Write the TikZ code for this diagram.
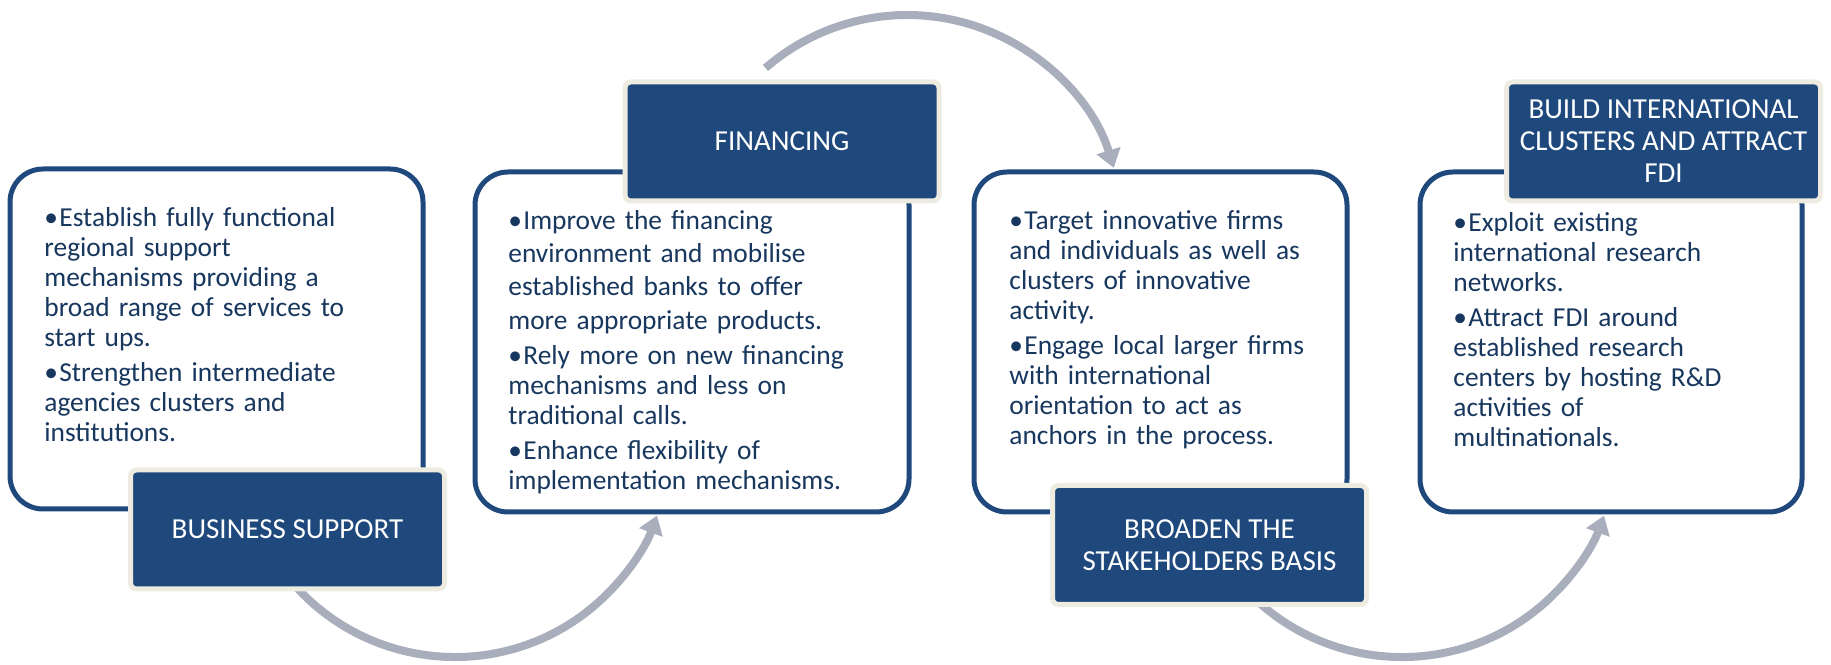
\documentclass[tikz,border=0pt]{standalone}
\usepackage{fontspec}
\setmainfont{Carlito}
\usetikzlibrary{arrows.meta,positioning}

\definecolor{panelblue}{HTML}{1F497D}
\definecolor{rimcream}{HTML}{EEECE1}
\definecolor{bodyink}{HTML}{17375E}
\definecolor{flowgray}{HTML}{A9AEBD}

% bullet with hanging indent
\newcommand{\bul}{\noindent\hangindent=7.5pt\hangafter=1\makebox[7.5pt][l]{\textbullet}}

\begin{document}
\begin{tikzpicture}[x=0.5pt,y=0.5pt,
  panel/.style={draw=panelblue,line width=2.5pt,fill=white,rounded corners=16.5pt,outer sep=0pt,minimum height=170pt},
  header/.style={draw=rimcream,line width=2.5pt,fill=panelblue,rounded corners=3pt,text=white,
    font=\fontsize{14.5}{16}\selectfont,align=center,inner sep=1pt,minimum width=157pt,minimum height=59.5pt},
  bodytext/.style={text=bodyink,font=\fontsize{13.7}{15}\selectfont,align=left,inner sep=0pt},
  flow/.style={draw=flowgray,line width=4pt,-{Triangle[width=12pt,length=9pt]}}]
\useasboundingbox (0,0) rectangle (1831,664);

% arrows (behind the boxes)
\coordinate (a1) at (295.2,78.1);
\coordinate (a2) at (765.5,596);
\coordinate (a3) at (1242.2,78.1);
\draw[flow] (a1) arc[start angle=222,end angle=340,radius=215];
\draw[flow] (a2) arc[start angle=131,end angle=17,radius=216];
\draw[flow] (a3) arc[start angle=222,end angle=340,radius=215];

% panels
\node (p1) at (216.5,325) [panel,minimum width=206.5pt] {};
\node (p2) at (692,322) [panel,minimum width=217pt] {};
\node (p3) at (1160.5,322) [panel,minimum width=186.5pt] {};
\node (p4) at (1611,322) [panel,minimum width=191pt] {};

% panel texts
\node (t1) [bodytext,text width=180pt,below right=19pt and 17pt of p1.north west]
  {\bul Establish fully functional\\ regional support\\ mechanisms providing a\\ broad range of services to\\ start ups.\par\vspace{2.5pt}
   \bul Strengthen intermediate\\ agencies clusters and\\ institutions.};
\node (t2) [bodytext,text width=192pt,below right=19pt and 16.5pt of p2.north west]
  {\bul\baselineskip=16.6pt Improve the financing\\ environment and mobilise\\ established banks to offer\\ more appropriate products.\par\baselineskip=15pt\vspace{2.5pt}
   \bul Rely more on new financing\\ mechanisms and less on\\ traditional calls.\par\vspace{2.5pt}
   \bul Enhance flexibility of\\ implementation mechanisms.};
\node (t3) [bodytext,text width=162pt,below right=19pt and 17.5pt of p3.north west]
  {\bul Target innovative firms\\ and individuals as well as\\ clusters of innovative\\ activity.\par\vspace{2.5pt}
   \bul Engage local larger firms\\ with international\\ orientation to act as\\ anchors in the process.};
\node (t4) [bodytext,text width=164pt,below right=20pt and 16.5pt of p4.north west]
  {\bul Exploit existing\\ international research\\ networks.\par\vspace{2.5pt}
   \bul Attract FDI around\\ established research\\ centers by hosting R\&D\\ activities of\\ multinationals.};

% headers
\node (h1) at (287.5,134.5) [header] {BUSINESS SUPPORT};
\node (h2) at (782,522.5) [header] {FINANCING};
\node (h3) at (1209.5,119) [header] {BROADEN THE\\STAKEHOLDERS BASIS};
\node (h4) at (1663.5,522.5) [header] {BUILD INTERNATIONAL\\CLUSTERS AND ATTRACT\\FDI};
\end{tikzpicture}
\end{document}
